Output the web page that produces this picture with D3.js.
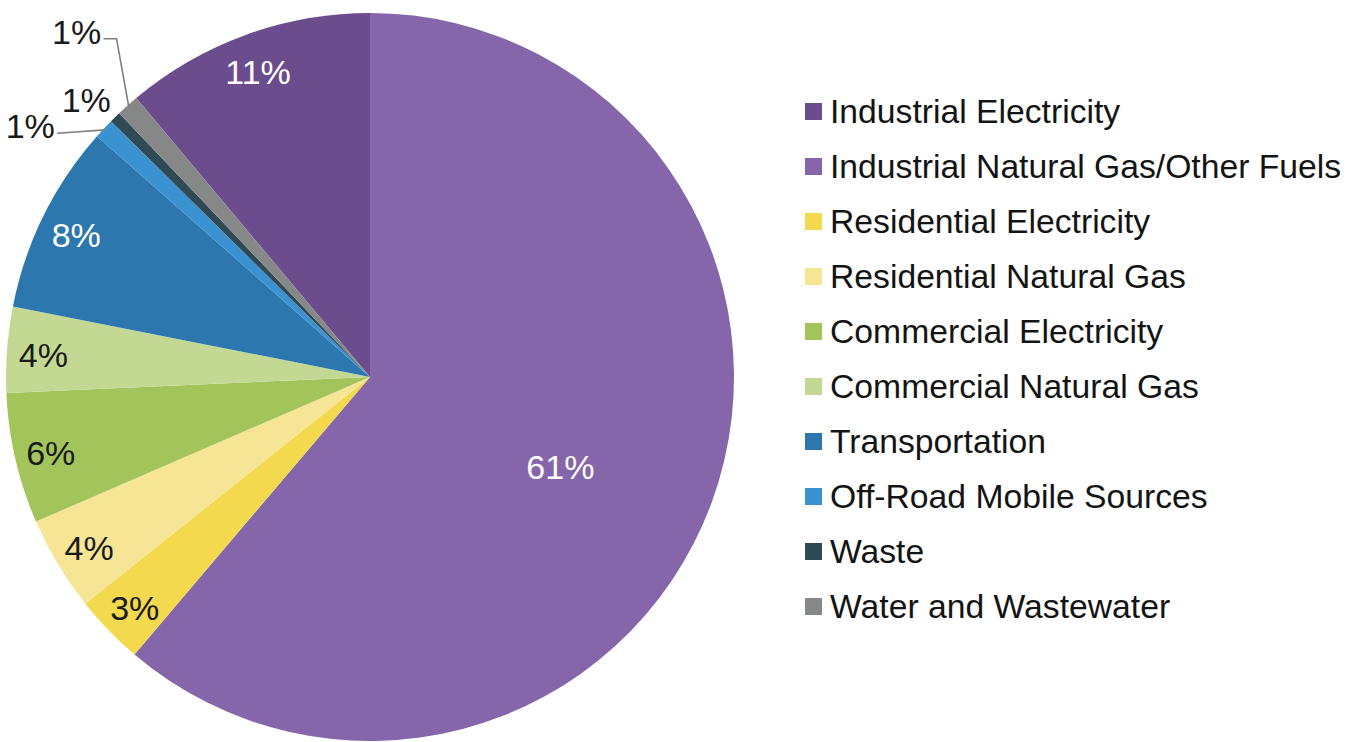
<!DOCTYPE html>
<html><head><meta charset="utf-8">
<script src="https://cdn.jsdelivr.net/npm/d3@7"></script>
<style>
html,body{margin:0;padding:0;background:#fff;}
svg{display:block;font-family:"Liberation Sans",Arial,sans-serif;}
</style></head>
<body>
<svg id="chart" width="1360" height="742"></svg>
<script>
const categories = ["Industrial Electricity","Industrial Natural Gas/Other Fuels","Residential Electricity","Residential Natural Gas","Commercial Electricity","Commercial Natural Gas","Transportation","Off-Road Mobile Sources","Waste","Water and Wastewater"];
const values = [11.1, 61.2, 3.1, 4.2, 5.8, 3.8, 8.4, 0.9, 0.5, 1.0];
const valueLabels = ["11%","61%","3%","4%","6%","4%","8%","1%","1%","1%"];
const colors = ["#6b4d8d","#8566aa","#f2d94e","#f5e595","#a3c45b","#c3d993","#2b77ae","#3a92d0","#2f4955","#858886"];
const labelColors = ["#ffffff","#ffffff","#1a1a1a","#1a1a1a","#1a1a1a","#1a1a1a","#ffffff","#1a1a1a","#1a1a1a","#1a1a1a"];

const svg = d3.select("#chart");
const cx = 370, cy = 377, R = 364;
const total = d3.sum(values);
const start = -values[0] / total * 2 * Math.PI;
const pie = d3.pie().sort(null).value(d => d).startAngle(start).endAngle(start + 2 * Math.PI);
const arcs = pie(values);
const arc = d3.arc().innerRadius(0).outerRadius(R);

const g = svg.append("g").attr("transform", `translate(${cx},${cy})`);
g.selectAll("path.slice").data(arcs).enter().append("path")
  .attr("class", "slice").attr("d", arc)
  .attr("fill", (d, i) => colors[i]);

// label layout
const outside = {7: {rf: 1.16, da: -6.6}, 8: {rf: 1.09, da: -1.2}, 9: {rf: 1.245, da: 1.4}};
function polar(r, a) { return [r * Math.sin(a), -r * Math.cos(a)]; }
arcs.forEach((d, i) => {
  const mid = (d.startAngle + d.endAngle) / 2;
  const frac = d.value / total;
  let rf, da = 0;
  if (outside[i]) { rf = outside[i].rf; da = outside[i].da; }
  else if (frac > 0.5) { rf = 0.575; da = 4.4; }
  else rf = 0.9;
  const [x, y] = polar(R * rf, mid + da * Math.PI / 180);
  const yy = outside[i] ? y : y + 3;
  g.append("text").attr("x", x).attr("y", yy)
    .attr("text-anchor", "middle").attr("dy", "0.35em")
    .attr("font-size", 34).attr("fill", labelColors[i])
    .text(valueLabels[i]);
  if (i === 9 || i === 7) {
    const [ex, ey] = polar(R * 0.995, mid);
    const sx = x + 27, sy = y + 7;
    const pts = i === 9 ? [[sx, sy], [sx + 13, sy], [ex, ey]] : [[sx, sy], [ex, ey]];
    g.append("path").attr("d", d3.line()(pts))
      .attr("fill", "none").attr("stroke", "#7f7f7f").attr("stroke-width", 1.6);
  }
});

// legend
const lx = 805, ly0 = 103, step = 55;
const leg = svg.append("g");
categories.forEach((c, i) => {
  const y = ly0 + i * step;
  leg.append("rect").attr("x", lx).attr("y", y).attr("width", 17).attr("height", 17).attr("fill", colors[i]);
  leg.append("text").attr("x", lx + 25).attr("y", y + 20)
    .attr("font-size", 33.7).attr("fill", "#141414").text(c);
});
</script>
</body></html>
